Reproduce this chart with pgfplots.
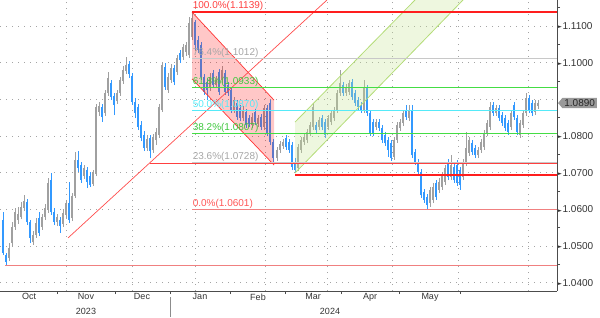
\documentclass[border=0pt]{standalone}
\usepackage{fontspec}
\setmainfont{Liberation Sans}
\newfontfamily\symf{DejaVu Sans}
\usepackage{pgfplots}
\pgfplotsset{compat=1.18}
\usepackage{pgfplotstable}
\usetikzlibrary{shapes.symbols}

\definecolor{cblue}{HTML}{3399FF}
\definecolor{cgray}{HTML}{A0A0A0}
\definecolor{fibred}{HTML}{FF1E1E}
\definecolor{fibgray}{HTML}{C8C8C8}
\definecolor{fibgreen}{HTML}{44DD44}
\definecolor{fibcyan}{HTML}{55EAF8}
\definecolor{lred}{HTML}{F08080}
\definecolor{chgreen}{HTML}{B4DC78}
\definecolor{chfill}{HTML}{C8E696}
\definecolor{dotc}{HTML}{A4A4A4}

\newcommand\yl[1]{{\symf\fontsize{5}{5}\selectfont\raisebox{0.8pt}{►}}\hspace{0.6pt}#1}

% x = position, lo/hi = body, low/high = wicks  (up candles, grey)
\pgfplotstableread{
x lo hi low high
9 1.0467 1.0494 1.0459 1.0508
12 1.0508 1.0552 1.0497 1.0566
15 1.0552 1.0593 1.0544 1.0604
18 1.0571 1.0587 1.0560 1.0607
21 1.0579 1.0607 1.0573 1.0621
24 1.0604 1.0623 1.0595 1.0639
33 1.0511 1.0530 1.0503 1.0541
36 1.0530 1.0563 1.0522 1.0576
42 1.0552 1.0579 1.0544 1.0587
45 1.0579 1.0604 1.0571 1.0615
48 1.0598 1.0672 1.0590 1.0685
57 1.0566 1.0579 1.0555 1.0587
63 1.0560 1.0590 1.0552 1.0601
66 1.0585 1.0618 1.0576 1.0626
72 1.0576 1.0637 1.0568 1.0645
75 1.0637 1.0735 1.0631 1.0757
84 1.0691 1.0713 1.0683 1.0721
93 1.0669 1.0702 1.0664 1.0707
96 1.0696 1.0880 1.0691 1.0887
99 1.0866 1.0882 1.0855 1.0893
105 1.0863 1.0918 1.0855 1.0926
108 1.0918 1.0958 1.0910 1.0975
117 1.0895 1.0918 1.0887 1.0926
120 1.0918 1.0953 1.0910 1.0961
123 1.0950 1.0980 1.0942 1.0991
126 1.0977 1.0994 1.0969 1.1015
147 1.0767 1.0792 1.0759 1.0803
153 1.0762 1.0797 1.0754 1.0806
156 1.0789 1.0811 1.0775 1.0822
159 1.0803 1.0880 1.0795 1.0887
162 1.0871 1.0994 1.0866 1.1002
168 1.0926 1.0961 1.0918 1.0972
171 1.0953 1.0986 1.0945 1.0996
177 1.0975 1.1013 1.0966 1.1021
183 1.1015 1.1043 1.1007 1.1051
186 1.1029 1.1048 1.1018 1.1057
189 1.1021 1.1108 1.1013 1.1125
192 1.1070 1.1122 1.1062 1.1139
210 1.0931 1.0961 1.0923 1.0972
216 1.0939 1.0953 1.0931 1.0964
222 1.0953 1.0980 1.0945 1.0991
234 1.0871 1.0898 1.0863 1.0907
243 1.0849 1.0871 1.0841 1.0882
252 1.0830 1.0852 1.0822 1.0863
258 1.0833 1.0849 1.0825 1.0857
264 1.0825 1.0876 1.0816 1.0885
277 1.0740 1.0762 1.0732 1.0770
280 1.0762 1.0778 1.0754 1.0786
283 1.0773 1.0784 1.0765 1.0792
298 1.0713 1.0770 1.0705 1.0778
301 1.0762 1.0789 1.0754 1.0797
304 1.0784 1.0797 1.0775 1.0806
307 1.0789 1.0811 1.0781 1.0819
310 1.0808 1.0830 1.0800 1.0839
313 1.0825 1.0880 1.0816 1.0890
319 1.0825 1.0844 1.0816 1.0852
328 1.0825 1.0849 1.0816 1.0857
331 1.0839 1.0863 1.0830 1.0871
334 1.0849 1.0871 1.0841 1.0880
337 1.0871 1.0918 1.0863 1.0926
340 1.0918 1.0945 1.0910 1.0980
346 1.0918 1.0934 1.0910 1.0942
349 1.0920 1.0945 1.0912 1.0953
364 1.0871 1.0931 1.0863 1.0953
376 1.0825 1.0839 1.0816 1.0847
394 1.0743 1.0789 1.0735 1.0797
397 1.0789 1.0830 1.0781 1.0839
400 1.0822 1.0839 1.0814 1.0847
403 1.0836 1.0863 1.0827 1.0871
409 1.0849 1.0871 1.0841 1.0885
430 1.0617 1.0653 1.0607 1.0661
433 1.0626 1.0661 1.0617 1.0672
439 1.0653 1.0675 1.0645 1.0685
442 1.0661 1.0694 1.0653 1.0702
445 1.0675 1.0713 1.0666 1.0721
451 1.0688 1.0721 1.0680 1.0748
463 1.0688 1.0730 1.0680 1.0737
466 1.0727 1.0767 1.0718 1.0811
469 1.0754 1.0789 1.0746 1.0797
478 1.0748 1.0762 1.0740 1.0770
481 1.0762 1.0784 1.0754 1.0792
484 1.0770 1.0808 1.0762 1.0816
487 1.0808 1.0836 1.0800 1.0844
490 1.0825 1.0880 1.0816 1.0893
496 1.0863 1.0876 1.0855 1.0885
511 1.0825 1.0863 1.0816 1.0871
520 1.0803 1.0836 1.0795 1.0844
523 1.0830 1.0863 1.0822 1.0871
526 1.0863 1.0904 1.0855 1.0918
535 1.0866 1.0890 1.0857 1.0898
538 1.0882 1.0890 1.0874 1.0898
}\tabG

% down candles, blue
\pgfplotstableread{
x lo hi low high
3 1.0481 1.0571 1.0475 1.0593
6 1.0457 1.0475 1.0448 1.0481
27 1.0566 1.0621 1.0557 1.0628
30 1.0522 1.0566 1.0508 1.0571
39 1.0536 1.0576 1.0527 1.0593
51 1.0593 1.0680 1.0585 1.0699
54 1.0566 1.0593 1.0557 1.0604
60 1.0555 1.0571 1.0536 1.0579
69 1.0571 1.0618 1.0563 1.0675
78 1.0713 1.0735 1.0702 1.0759
81 1.0680 1.0721 1.0672 1.0730
87 1.0675 1.0707 1.0658 1.0716
90 1.0666 1.0691 1.0661 1.0702
102 1.0852 1.0880 1.0839 1.0887
111 1.0907 1.0945 1.0898 1.0953
114 1.0885 1.0910 1.0857 1.0918
129 1.0969 1.0996 1.0958 1.1005
132 1.0893 1.0964 1.0885 1.0972
135 1.0863 1.0893 1.0849 1.0904
138 1.0825 1.0880 1.0816 1.0887
141 1.0795 1.0830 1.0786 1.0841
144 1.0767 1.0803 1.0759 1.0814
150 1.0759 1.0795 1.0740 1.0803
165 1.0934 1.0988 1.0926 1.0999
174 1.0947 1.0986 1.0939 1.0994
180 1.1007 1.1027 1.0999 1.1035
195 1.1048 1.1111 1.1035 1.1116
198 1.1035 1.1062 1.1027 1.1073
201 1.0961 1.1048 1.0953 1.1057
204 1.0920 1.0961 1.0912 1.0969
207 1.0926 1.0947 1.0898 1.0956
213 1.0939 1.0972 1.0931 1.0980
219 1.0920 1.0975 1.0912 1.0983
225 1.0920 1.0972 1.0912 1.0980
228 1.0918 1.0939 1.0910 1.0947
231 1.0871 1.0926 1.0863 1.0934
237 1.0852 1.0890 1.0844 1.0898
240 1.0849 1.0876 1.0841 1.0885
246 1.0830 1.0866 1.0822 1.0874
249 1.0833 1.0849 1.0825 1.0857
255 1.0839 1.0866 1.0830 1.0874
261 1.0825 1.0852 1.0816 1.0860
267 1.0808 1.0876 1.0800 1.0885
270 1.0784 1.0890 1.0775 1.0898
273 1.0740 1.0784 1.0727 1.0792
286 1.0770 1.0795 1.0762 1.0803
289 1.0762 1.0784 1.0754 1.0792
292 1.0716 1.0775 1.0707 1.0784
295 1.0707 1.0730 1.0699 1.0740
316 1.0816 1.0830 1.0808 1.0839
322 1.0825 1.0849 1.0816 1.0857
325 1.0803 1.0839 1.0795 1.0847
343 1.0918 1.0939 1.0910 1.0947
352 1.0907 1.0947 1.0898 1.0956
355 1.0890 1.0918 1.0882 1.0926
358 1.0880 1.0898 1.0871 1.0907
361 1.0871 1.0885 1.0863 1.0893
367 1.0863 1.0931 1.0855 1.0939
370 1.0808 1.0863 1.0800 1.0871
373 1.0808 1.0839 1.0800 1.0847
379 1.0822 1.0839 1.0814 1.0847
382 1.0789 1.0822 1.0781 1.0830
385 1.0781 1.0803 1.0773 1.0811
388 1.0762 1.0789 1.0743 1.0797
391 1.0740 1.0781 1.0732 1.0789
406 1.0852 1.0871 1.0844 1.0885
412 1.0748 1.0871 1.0740 1.0885
415 1.0730 1.0757 1.0721 1.0765
418 1.0702 1.0730 1.0694 1.0737
421 1.0639 1.0702 1.0631 1.0710
424 1.0626 1.0647 1.0617 1.0656
427 1.0612 1.0634 1.0601 1.0642
436 1.0634 1.0672 1.0626 1.0680
448 1.0688 1.0730 1.0680 1.0737
454 1.0680 1.0716 1.0672 1.0724
457 1.0672 1.0721 1.0664 1.0735
460 1.0666 1.0707 1.0653 1.0716
472 1.0757 1.0781 1.0748 1.0789
475 1.0748 1.0767 1.0740 1.0775
493 1.0863 1.0885 1.0855 1.0893
499 1.0849 1.0876 1.0841 1.0885
502 1.0836 1.0857 1.0827 1.0866
505 1.0822 1.0849 1.0814 1.0857
508 1.0811 1.0836 1.0803 1.0844
514 1.0852 1.0885 1.0844 1.0893
517 1.0811 1.0849 1.0803 1.0857
529 1.0871 1.0904 1.0863 1.0912
532 1.0863 1.0890 1.0855 1.0898
}\tabB

\begin{document}
\begin{tikzpicture}
\useasboundingbox (0pt,-26pt) rectangle (600pt,291pt);
\begin{axis}[
  at={(0pt,0pt)}, anchor=south west,
  width=557pt, height=291pt, scale only axis,
  xmin=0, xmax=557, ymin=1.03774, ymax=1.1171,
  axis x line=bottom, axis y line=right,
  axis line style={-, draw=black!70, line width=0.6pt},
  xtick={29,86,142,200,258,313,370,430},
  xticklabels={Oct,Nov,Dec,Jan,Feb,Mar,Apr,May},
  minor xtick={57,115,170,230,285,341,399,460},
  ytick={1.04,1.05,1.06,1.07,1.08,1.09,1.10,1.11},
  yticklabels={\yl{1.0400},\yl{1.0500},\yl{1.0600},\yl{1.0700},\yl{1.0800},{},\yl{1.1000},\yl{1.1100}},
  minor ytick={1.045,1.055,1.065,1.075,1.085,1.095,1.105,1.115},
  major tick length=0pt, minor tick length=3pt,
  tick align=outside,
  minor tick style={draw=black!70, line width=0.5pt},
  xticklabel style={font=\fontsize{9}{9}\selectfont, text=black!80, inner sep=1pt, yshift=-1.5pt},
  yticklabel style={font=\fontsize{10}{10}\selectfont, text=black!80, anchor=west, inner sep=0pt, xshift=1pt},
  clip=true,
]
% dotted grid
\pgfplotsinvokeforeach{1.04,1.05,1.06,1.07,1.08,1.09,1.10,1.11}{
  \addplot[draw=dotc, line width=1pt, dash pattern=on 1.3pt off 4.7pt, forget plot] coordinates {(0,#1) (557,#1)};
}
\pgfplotsinvokeforeach{66,132,195,265,327,392,458,528}{
  \addplot[draw=dotc, line width=1pt, dash pattern=on 1.3pt off 4.7pt, forget plot] coordinates {(#1,1.03774) (#1,1.1171)};
}

% candles: wicks then bodies (vertical segments from low to high / open to close)
\addplot[cgray, line width=0.6pt, no markers, quiver={u=0, v=\thisrow{high}-\thisrow{low}}]
  table[x=x, y=low] {\tabG};
\addplot[cgray, line width=2pt, no markers, quiver={u=0, v=\thisrow{hi}-\thisrow{lo}}]
  table[x=x, y=lo] {\tabG};
\addplot[cblue, line width=0.6pt, no markers, quiver={u=0, v=\thisrow{high}-\thisrow{low}}]
  table[x=x, y=low] {\tabB};
\addplot[cblue, line width=2pt, no markers, quiver={u=0, v=\thisrow{hi}-\thisrow{lo}}]
  table[x=x, y=lo] {\tabB};

% channels (fills)
\addplot[draw=none, fill=red, fill opacity=0.22] coordinates {(192,1.1138) (274,1.0898) (274,1.0721) (192,1.0956)} -- cycle;
\addplot[draw=none, fill=chfill, fill opacity=0.3] coordinates {(295,1.0838) (415,1.1171) (463,1.1171) (295,1.0699)} -- cycle;
\addplot[chgreen, line width=0.8pt] coordinates {(295,1.0838) (415,1.1171)};
\addplot[chgreen, line width=0.8pt] coordinates {(295,1.0699) (463,1.1171)};
\addplot[red!80, line width=0.7pt] coordinates {(192,1.1138) (274,1.0898)};
\addplot[red!80, line width=0.7pt] coordinates {(192,1.0956) (274,1.0721)};
\addplot[red!70, line width=0.7pt] coordinates {(68,1.0522) (327,1.1171)};

% horizontal levels
\addplot[lred, line width=0.9pt] coordinates {(5,1.0448) (557,1.0448)};
\addplot[red!75, line width=0.9pt] coordinates {(150,1.0725) (557,1.0725)};
\addplot[fibred, line width=2pt] coordinates {(295,1.0695) (557,1.0695)};
\addplot[fibred, line width=2pt] coordinates {(192,1.1139) (557,1.1139)};
\addplot[fibgray, line width=1pt] coordinates {(192,1.1012) (557,1.1012)};
\addplot[fibgreen, line width=0.8pt] coordinates {(192,1.0933) (557,1.0933)};
\addplot[fibcyan, line width=1pt] coordinates {(192,1.0870) (557,1.0870)};
\addplot[fibgreen, line width=0.8pt] coordinates {(192,1.0807) (557,1.0807)};
\addplot[fibgray, line width=1pt] coordinates {(192,1.0728) (557,1.0728)};
\addplot[lred, line width=0.8pt] coordinates {(192,1.0601) (557,1.0601)};

% fibonacci labels
\begin{scope}[every node/.style={anchor=south west, inner sep=0.6pt, font=\fontsize{10}{10}\selectfont}]
\node[text=fibred!85] at (axis cs:192,1.1139) {100.0\%(1.1139)};
\node[text=black!35] at (axis cs:192,1.1012) {76.4\%(1.1012)};
\node[text=fibgreen!90!black] at (axis cs:192,1.0933) {61.8\%(1.0933)};
\node[text=fibcyan] at (axis cs:192,1.0870) {50.0\%(1.0870)};
\node[text=fibgreen!90!black] at (axis cs:192,1.0807) {38.2\%(1.0807)};
\node[text=black!35] at (axis cs:192,1.0728) {23.6\%(1.0728)};
\node[text=fibred!75] at (axis cs:192,1.0601) {0.0\%(1.0601)};
\end{scope}

\coordinate (pb) at (axis cs:557,1.0890);
\coordinate (y23) at (axis cs:86,1.03774);
\coordinate (y24) at (axis cs:330,1.03774);
\coordinate (sep) at (axis cs:170,1.03774);
\end{axis}
\node[signal, signal to=west, signal pointer angle=100, fill=black!40, text=black!85,
  inner xsep=2pt, inner ysep=1.6pt, anchor=west, font=\fontsize{10}{10}\selectfont]
  at ([xshift=0.8pt]pb) {1.0890};
\node[font=\fontsize{9}{9}\selectfont, text=black!80] at ([yshift=-20pt]y23) {2023};
\node[font=\fontsize{9}{9}\selectfont, text=black!80] at ([yshift=-20pt]y24) {2024};
\draw[black!45, line width=0.5pt] ([yshift=-6pt]sep) -- ([yshift=-26pt]sep);
\end{tikzpicture}
\end{document}
